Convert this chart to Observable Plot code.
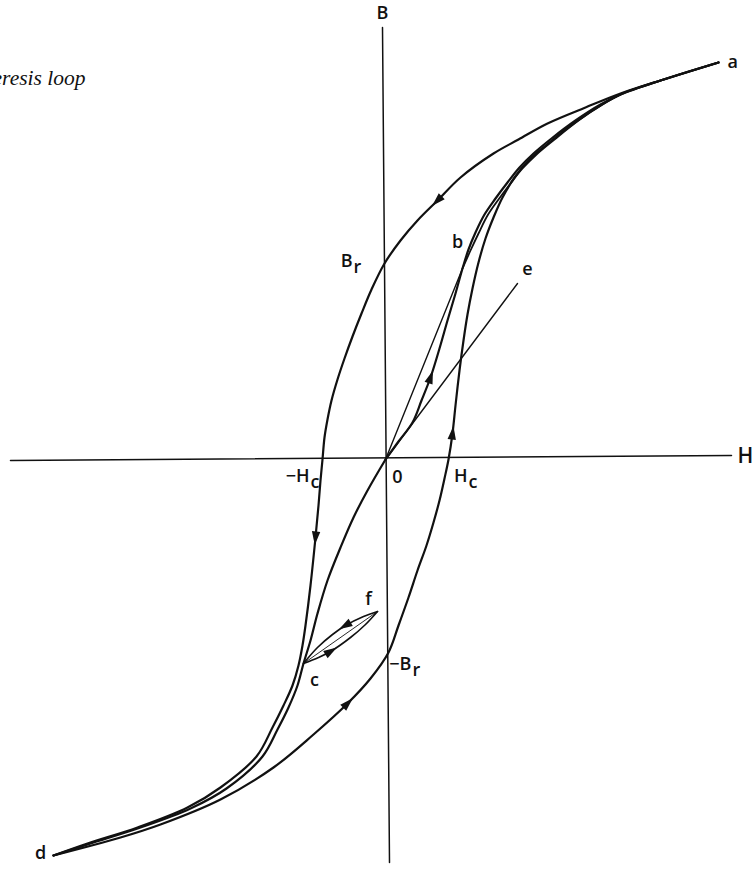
<!DOCTYPE html>
<html>
<head>
<meta charset="utf-8">
<script src="https://cdn.jsdelivr.net/npm/d3@7"></script>
<script src="https://cdn.jsdelivr.net/npm/@observablehq/plot@0.6"></script>
<style>
  html, body { margin: 0; padding: 0; background: #fff; overflow: hidden; }
  #chart svg { display: block; }
</style>
</head>
<body>
<div id="chart"></div>
<script>
// Magnetic field strength H (horizontal) against flux density B (vertical), arbitrary units.

// Major loop, rising branch: d → −B_r → H_c → a
const ascending = [
  [-33.2, -39.6], [-26.5, -37.8], [-22.5, -36.5], [-16.5, -34.0], [-11.2, -30.8],
  [-7.2, -27.5], [-3.8, -24.4], [-1.5, -21.9], [0.3, -19.3], [1.3, -16.6],
  [2.3, -13.8], [3.2, -11.1], [4.1, -8.6], [4.8, -6.3], [5.4, -4.1], [5.9, -1.9],
  [6.3, 0], [6.7, 2.6], [7.0, 5.4], [7.4, 8.9], [7.8, 11.9], [8.2, 14.5],
  [8.7, 17.1], [9.3, 19.7], [10.0, 22.1], [10.8, 24.2], [11.7, 26.2], [12.9, 28.2],
  [14.3, 29.9], [15.9, 31.3], [17.5, 32.6], [19.5, 34.1], [21.5, 35.4], [23.5, 36.5],
  [27.5, 37.9], [33.3, 39.7]
];

// Major loop, falling branch: a → B_r → −H_c → d
const descending = [
  [33.3, 39.7], [27.5, 37.9], [23.5, 36.6], [20.0, 35.2], [16.2, 33.6], [13.3, 32.0],
  [10.8, 30.6], [7.5, 28.2], [5.2, 25.9], [3.2, 23.9], [1.5, 21.9], [-0.1, 19.6],
  [-1.4, 17.0], [-2.4, 14.6], [-3.3, 12.3], [-4.1, 10.1], [-4.8, 8.0], [-5.4, 5.9],
  [-5.8, 4.0], [-6.1, 2.2], [-6.3, 0], [-6.5, -2.1], [-6.7, -4.6], [-7.0, -7.8],
  [-7.5, -12.6], [-8.0, -16.6], [-8.3, -18.6], [-8.7, -20.6], [-9.3, -22.6],
  [-10.2, -24.6], [-11.3, -26.8], [-12.9, -29.7], [-16.5, -32.8], [-19.8, -34.8],
  [-24.8, -36.8], [-29.8, -38.4], [-33.2, -39.6]
];

// Initial magnetization curve O → b → a
const initialUpper = [
  [0, 0], [1.3, 1.8], [2.7, 3.7], [3.6, 5.9], [4.5, 8.2], [5.4, 11.1], [6.2, 13.9],
  [7.0, 16.6], [7.7, 19.1], [8.3, 21.0], [9.0, 22.7], [9.9, 24.5], [11.0, 26.1],
  [12.2, 27.7], [13.4, 29.2], [14.8, 30.6], [16.6, 32.1], [19.0, 33.9], [21.5, 35.5],
  [23.5, 36.5], [27.5, 37.9], [33.3, 39.7]
];

// Second trace from b up to the tip
const upperFromB = [
  [7.7, 19.1], [8.5, 20.9], [9.3, 22.6], [10.2, 24.4], [11.3, 26.0], [12.5, 27.6],
  [13.7, 29.1], [15.1, 30.5], [16.9, 32.0], [19.3, 33.9], [21.7, 35.5], [23.5, 36.5]
];

// Mirror curve O → c → d
const initialLower = [
  [0, 0], [-1.8, -3.1], [-3.2, -5.8], [-4.5, -8.8], [-5.8, -12.1], [-6.8, -15.4],
  [-7.5, -18.1], [-8.2, -20.4], [-8.8, -22.6], [-9.7, -24.8], [-10.8, -27.0],
  [-12.3, -29.7], [-15.9, -32.9], [-19.5, -34.9], [-24.5, -36.8], [-29.5, -38.4],
  [-33.2, -39.6]
];

// Minor loop between c and f
const minorUpper = [[-0.8, -15.2], [-2.2, -15.7], [-4.0, -16.6], [-5.3, -17.5], [-6.8, -18.8], [-8.2, -20.4]];
const minorLower = [[-8.2, -20.4], [-6.7, -19.8], [-5.5, -19.2], [-3.5, -17.8], [-2.0, -16.5], [-0.8, -15.2]];

// Straight lines: chord O–b, initial slope O–e, chord c–f
const chordOb = [[0, 0], [7.7, 19.1]];
const lineOe = [[0, 0], [13.2, 17.6]];
const chordCf = [[-8.2, -20.4], [-0.8, -15.2]];

// Axes
const hAxis = [[-37.5, -0.1], [34.6, 0.4]];
const bAxis = [[-0.3, 43.2], [0.4, -40.3]];

// Direction markers: curve and the vertex each head sits on
const arrowSpots = [
  ["descending", 5.2, 25.9], ["descending", -7.0, -7.8],
  ["ascending", -3.8, -24.4], ["ascending", 6.7, 2.6],
  ["initialUpper", 4.5, 8.2],
  ["minorUpper", -4.0, -16.6], ["minorLower", -5.5, -19.2]
];

// Named points
const points = {
  a: [33.3, 39.7], b: [7.7, 19.1], c: [-8.2, -20.4], d: [-33.2, -39.6],
  e: [13.2, 17.6], f: [-0.8, -15.2], O: [0, 0],
  Br: [-0.1, 19.6], negBr: [0.3, -19.3], Hc: [6.3, 0], negHc: [-6.3, 0],
  Bend: [-0.3, 43.2], Hend: [34.6, 0.4]
};

// Labels: text, optional subscript, point they belong to
const labels = [
  {text: "a", at: "a"}, {text: "b", at: "b"}, {text: "c", at: "c"},
  {text: "d", at: "d"}, {text: "e", at: "e"}, {text: "f", at: "f"},
  {text: "0", at: "O"}, {text: "B", at: "Bend"}, {text: "H", at: "Hend"},
  {text: "B", sub: "r", at: "Br"}, {text: "−B", sub: "r", at: "negBr"},
  {text: "H", sub: "c", at: "Hc"}, {text: "−H", sub: "c", at: "negHc"}
];

const title = "Hysteresis loop";

const curves = {ascending, descending, initialUpper, upperFromB, initialLower, minorUpper, minorLower};

// Label placement in pixels relative to the point
const offsets = {
  a: {dx: 9, dy: 0, anchor: "start"}, b: {dx: -5, dy: -26}, c: {dx: 11, dy: 17},
  d: {dx: -13, dy: -2}, e: {dx: 10, dy: -14}, f: {dx: -9, dy: -12},
  O: {dx: 12, dy: 18}, Bend: {dx: 0, dy: -14}, Hend: {dx: 6, dy: 1, anchor: "start", size: 21},
  Br: {dx: -32, dy: -2}, negBr: {dx: 23, dy: 12},
  Hc: {dx: 19, dy: 17}, negHc: {dx: -13, dy: 17}
};

const arrows = arrowSpots.map(([name, h, b]) => {
  const pts = curves[name];
  const i = d3.minIndex(pts, p => (p[0] - h) ** 2 + (p[1] - b) ** 2);
  const prev = pts[Math.max(0, i - 1)], next = pts[Math.min(pts.length - 1, i + 1)];
  const dH = next[0] - prev[0], dB = next[1] - prev[1];
  return {x: pts[i][0], y: pts[i][1], angle: Math.atan2(dH, dB) * 180 / Math.PI};
});

// Narrow filled arrowhead, apex pointing up before rotation
const arrowHead = {
  draw(context) {
    context.moveTo(0, -7.5);
    context.lineTo(4.2, 6);
    context.lineTo(-4.2, 6);
    context.closePath();
  }
};

const X = d => d[0], Y = d => d[1];
const font = "Open Sans";

const marks = [
  Plot.line(hAxis, {x: X, y: Y, stroke: "#111", strokeWidth: 1.5}),
  Plot.line(bAxis, {x: X, y: Y, stroke: "#111", strokeWidth: 1.5}),
  Plot.line(chordOb, {x: X, y: Y, stroke: "#111", strokeWidth: 1.4}),
  Plot.line(lineOe, {x: X, y: Y, stroke: "#111", strokeWidth: 1.4}),
  Plot.line(chordCf, {x: X, y: Y, stroke: "#111", strokeWidth: 0.9}),
  ...Object.entries(curves).map(([name, pts]) =>
    Plot.line(pts, {
      x: X, y: Y, curve: "catmull-rom", stroke: "#111",
      strokeWidth: name.startsWith("minor") ? 1.6 : (name === "upperFromB" ? 1.8 : 2.2)
    })
  ),
  Plot.dot(arrows, {x: "x", y: "y", rotate: "angle", symbol: arrowHead, fill: "#111", stroke: "none", r: 4}),
  Plot.text([title], {
    x: -30, y: 37.5, text: d => d, textAnchor: "end", lineAnchor: "bottom",
    fontFamily: "Liberation Serif", fontStyle: "italic", fontSize: 21.5, fill: "#111"
  })
];

for (const l of labels) {
  const o = offsets[l.at];
  const p = points[l.at];
  const size = o.size || 18;
  const common = {x: () => p[0], y: () => p[1], fontFamily: font, fontWeight: 600, fontSize: size, fill: "#111"};
  if (l.sub) {
    marks.push(Plot.text([l], {...common, text: "text", dx: o.dx, dy: o.dy, textAnchor: "end"}));
    marks.push(Plot.text([l], {...common, text: "sub", dx: o.dx + 1, dy: o.dy + 6, textAnchor: "start"}));
  } else {
    marks.push(Plot.text([l], {...common, text: "text", dx: o.dx, dy: o.dy, textAnchor: o.anchor || "middle"}));
  }
}

const chart = Plot.plot({
  width: 753,
  height: 890,
  margin: 0,
  x: {domain: [-38.5, 36.8], axis: null},
  y: {domain: [-43.1, 45.9], axis: null},
  style: {background: "#fff", overflow: "visible"},
  marks
});

document.getElementById("chart").append(chart);
</script>
</body>
</html>
